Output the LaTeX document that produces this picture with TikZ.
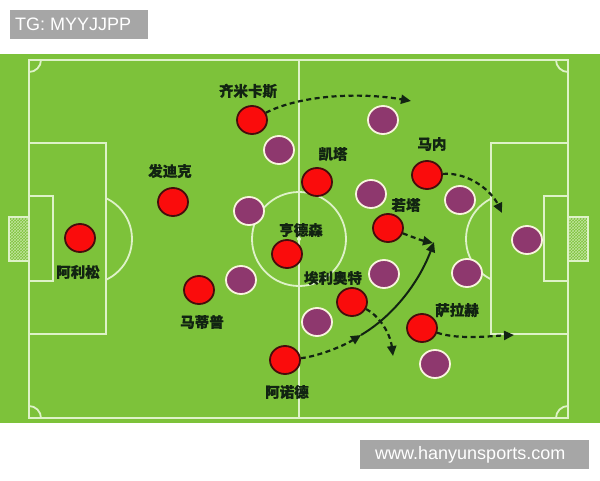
\documentclass[tikz,border=0pt]{standalone}
\usepackage{fontspec}
\setmainfont{Liberation Sans}
\newfontfamily\cjk[BoldFeatures={FakeBold=0.8}]{Noto Sans CJK SC}
\usetikzlibrary{arrows.meta,positioning,patterns,shapes.geometric}

\definecolor{pitch}{RGB}{125,194,58}
\definecolor{chalk}{RGB}{222,242,200}
\definecolor{homered}{RGB}{250,12,12}
\definecolor{homeline}{RGB}{70,12,12}
\definecolor{awayfill}{RGB}{142,56,110}
\definecolor{awayline}{RGB}{248,244,222}
\definecolor{ink}{RGB}{18,36,18}
\definecolor{tagbg}{RGB}{166,166,166}

\begin{document}
\begin{tikzpicture}[x=1pt,y=-1pt,>={Triangle[length=10pt,width=9pt]},
  chalkline/.style={draw=chalk,line width=1.8pt},
  home/.style={ellipse,minimum width=30pt,minimum height=28pt,inner sep=0pt,fill=homered,draw=homeline,line width=1.8pt},
  away/.style={ellipse,minimum width=30pt,minimum height=28pt,inner sep=0pt,fill=awayfill,draw=awayline,line width=1.8pt},
  plabel/.style={font=\cjk\bfseries\fontsize{14.5}{16}\selectfont,text=ink,inner sep=1pt},
  run/.style={->,draw=ink,line width=2.2pt,dash pattern=on 5pt off 3.5pt},
  pass/.style={->,draw=ink,line width=2pt},
  tag/.style={fill=tagbg,text=white,font=\fontsize{18}{20}\selectfont,inner sep=0pt,anchor=west}]
  \useasboundingbox (0,0) rectangle (600,480);
  \fill[white] (0,0) rectangle (600,480);
  \fill[pitch] (0,54) rectangle (600,423);

  % markings
  \draw[chalkline] (29,60) rectangle (568,418);
  \draw[chalkline] (299,60) -- (299,418);
  \draw[chalkline] (299,239) circle[radius=47];
  \fill[chalk] (299,239) circle[radius=2];
  \draw[chalkline] (29,143) rectangle (106,334);
  \draw[chalkline] (29,196) rectangle (53,281);
  \draw[chalkline] (491,143) rectangle (568,334);
  \draw[chalkline] (544,196) rectangle (568,281);
  \begin{scope}
    \clip (106,100) rectangle (200,380);
    \draw[chalkline] (87,239) circle[radius=45];
  \end{scope}
  \begin{scope}
    \clip (400,100) rectangle (491,380);
    \draw[chalkline] (511,239) circle[radius=45];
  \end{scope}
  \begin{scope}
    \clip (29,60) rectangle (568,418);
    \draw[chalkline] (29,60) circle[radius=12];
    \draw[chalkline] (568,60) circle[radius=12];
    \draw[chalkline] (29,418) circle[radius=12];
    \draw[chalkline] (568,418) circle[radius=12];
  \end{scope}
  \draw[chalkline,line width=1.5pt,pattern=crosshatch,pattern color=chalk!70!pitch] (9,217) rectangle (29,261);
  \draw[chalkline,line width=1.5pt,pattern=crosshatch,pattern color=chalk!70!pitch] (568,217) rectangle (588,261);

  % opponents
  \node[away] (opa) at (279,150) {};
  \node[away] (opb) at (249,211) {};
  \node[away] (opc) at (241,280) {};
  \node[away] (opd) at (383,120) {};
  \node[away] (ope) at (371,194) {};
  \node[away] (opf) at (460,200) {};
  \node[away] (opg) at (527,240) {};
  \node[away] (oph) at (467,273) {};
  \node[away] (opi) at (384,274) {};
  \node[away] (opj) at (317,322) {};
  \node[away] (opk) at (435,364) {};

  % liverpool
  \node[home] (alisson)   at (80,238)  {};
  \node[home] (vandijk)   at (173,202) {};
  \node[home] (matip)     at (199,290) {};
  \node[home] (tsimikas)  at (252,120) {};
  \node[home] (arnold)    at (285,360) {};
  \node[home] (henderson) at (287,254) {};
  \node[home] (keita)     at (317,182) {};
  \node[home] (mane)      at (427,175) {};
  \node[home] (jota)      at (388,228) {};
  \node[home] (elliott)   at (352,302) {};
  \node[home] (salah)     at (422,328) {};

  \node[plabel] (alissontxt)   at (78,272)  {阿利松};
  \node[plabel] (vandijktxt)   at (170,171) {发迪克};
  \node[plabel] (matiptxt)     at (202,322) {马蒂普};
  \node[plabel] (tsimikastxt)  at (248,91)  {齐米卡斯};
  \node[plabel] (arnoldtxt)    at (287,392) {阿诺德};
  \node[plabel] (hendersontxt) at (301,230) {亨德森};
  \node[plabel] (keitatxt)     at (333,154) {凯塔};
  \node[plabel] (manetxt)      at (432,144) {马内};
  \node[plabel] (jotatxt)      at (406,205) {若塔};
  \node[plabel] (elliotttxt)   at (333,278) {埃利奥特};
  \node[plabel] (salahtxt)     at (457,310) {萨拉赫};

  % runs and the pass
  \coordinate (tsimikasgo) at (411,101);
  \coordinate (manego)     at (502,213);
  \coordinate (jotago)     at (433,243);
  \coordinate (arnoldgo)   at (361,335);
  \coordinate (ball)       at (434,242);
  \coordinate (elliottgo)  at (393,356);
  \coordinate (salahgo)    at (514,335);

  \draw[run] (tsimikas) .. controls (300,95) and (360,92) .. (tsimikasgo);
  \draw[run] (mane) .. controls (470,172) and (492,192) .. (manego);
  \draw[run] (jota) .. controls (410,236) and (420,240) .. (jotago);
  \draw[run] (arnold) .. controls (320,356) and (345,345) .. (arnoldgo);
  \draw[pass] (arnoldgo) .. controls (395,315) and (420,280) .. (ball);
  \draw[run] (elliott) .. controls (378,315) and (390,332) .. (elliottgo);
  \draw[run] (salah) .. controls (460,340) and (490,336) .. (salahgo);

  % tags
  \node[tag,minimum width=138pt,minimum height=29pt] (tgbox) at (10,24.5) {};
  \node[tag] (tgtxt) at (15,24.5) {TG: MYYJJPP};
  \node[tag,minimum width=229pt,minimum height=29pt] (sitebox) at (360,454.5) {};
  \node[tag] (sitetxt) at (375,454.5) {www.hanyunsports.com};
\end{tikzpicture}
\end{document}
